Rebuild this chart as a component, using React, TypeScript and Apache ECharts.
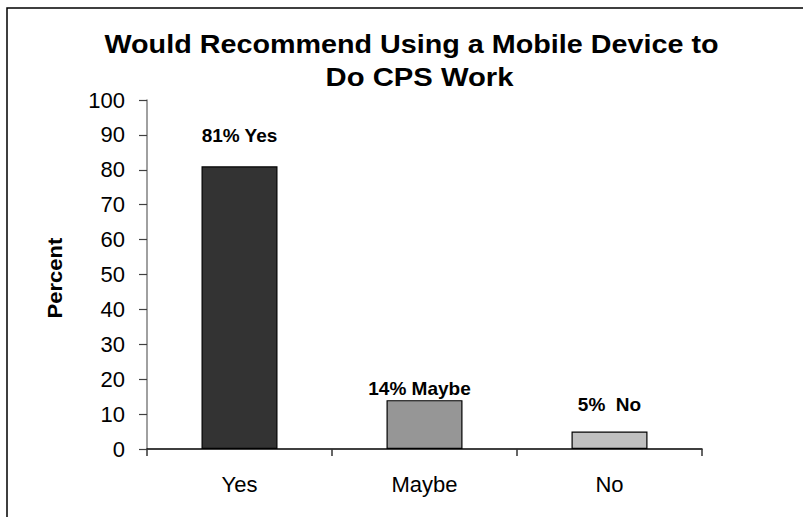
import React, { useEffect, useRef } from "react";
import * as echarts from "echarts";

const titleLines = ["Would Recommend Using a Mobile Device to", "Do CPS Work"];
const categories = ["Yes", "Maybe", "No"];
const values = [81, 14, 5];
const barLabels = ["81% Yes", "14% Maybe", "5%  No"];
const barColors = ["#333333", "#969696", "#c0c0c0"];
const yAxisName = "Percent";

const FONT = "'Liberation Sans', Arial, Helvetica, sans-serif";

export default function App() {
  const ref = useRef<HTMLDivElement>(null);
  useEffect(() => {
    const chart = echarts.init(ref.current!, null, { renderer: "svg" });
    const labelTweaks = [
      { distance: 21, offset: [0, 0] },
      { distance: 2, offset: [-5, 0] },
      { distance: 18, offset: [0, 0] },
    ];
    chart.setOption({
      animation: false,
      backgroundColor: "#ffffff",
      grid: { left: 147, right: 101, top: 100, bottom: 68, containLabel: false },
      graphic: [
        {
          type: "rect",
          z: -10,
          shape: { x: 7, y: 8, width: 900, height: 600 },
          style: { fill: "none", stroke: "#000000", lineWidth: 1.5 },
        },
        {
          type: "text",
          x: 411.5,
          y: 44,
          scaleX: 1.15,
          scaleY: 1.04,
          style: {
            text: titleLines[0],
            font: `bold 25px ${FONT}`,
            fill: "#000000",
            textAlign: "center",
            textVerticalAlign: "middle",
          },
        },
        {
          type: "text",
          x: 419.5,
          y: 77.5,
          scaleX: 1.17,
          scaleY: 1.04,
          style: {
            text: titleLines[1],
            font: `bold 25px ${FONT}`,
            fill: "#000000",
            textAlign: "center",
            textVerticalAlign: "middle",
          },
        },
        {
          type: "text",
          x: 55.5,
          y: 278,
          rotation: Math.PI / 2,
          scaleX: 1.05,
          style: {
            text: yAxisName,
            font: `bold 21px ${FONT}`,
            fill: "#000000",
            textAlign: "center",
            textVerticalAlign: "middle",
          },
        },
      ],
      xAxis: {
        type: "category",
        data: categories,
        axisLine: { lineStyle: { color: "#000000", width: 1.5 } },
        axisTick: { show: true, length: 7, inside: false, lineStyle: { color: "#333333", width: 1.5 } },
        axisLabel: { color: "#000000", fontSize: 22, fontFamily: FONT, margin: 24 },
        splitLine: { show: false },
      },
      yAxis: {
        type: "value",
        min: 0,
        max: 100,
        interval: 10,
        axisLine: { show: true, lineStyle: { color: "#808080", width: 1.5 } },
        axisTick: { show: true, length: 8, inside: false, lineStyle: { color: "#404040", width: 1.2 } },
        axisLabel: { color: "#000000", fontSize: 22, fontFamily: FONT, margin: 22 },
        splitLine: { show: false },
      },
      series: [
        {
          type: "bar",
          barWidth: 76,
          data: values.map((v, i) => ({
            value: v,
            itemStyle: { color: barColors[i], borderColor: "#000000", borderWidth: 1.2 },
            label: {
              show: true,
              position: "top",
              distance: labelTweaks[i].distance,
              offset: labelTweaks[i].offset,
              formatter: barLabels[i],
              fontSize: 19,
              fontWeight: "bold",
              fontFamily: FONT,
              color: "#000000",
            },
          })),
        },
      ],
    });
    return () => chart.dispose();
  }, []);
  return (
    <div
      ref={ref}
      style={{ position: "fixed", left: 0, top: 0, width: 803, height: 517 }}
    />
  );
}
